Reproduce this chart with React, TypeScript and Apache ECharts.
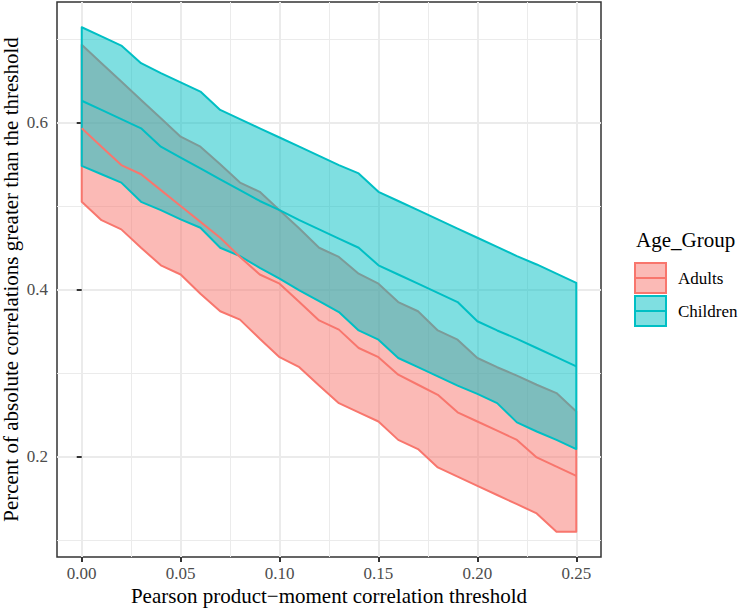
import React, { useEffect, useRef } from "react";
import * as echarts from "echarts";

// ---- data ----
const thresholds = [
  0, 0.01, 0.02, 0.03, 0.04, 0.05, 0.06, 0.07, 0.08, 0.09, 0.1, 0.11, 0.12,
  0.13, 0.14, 0.15, 0.16, 0.17, 0.18, 0.19, 0.2, 0.21, 0.22, 0.23, 0.24, 0.25,
];
const adultsUpper = [
  0.693, 0.671, 0.649, 0.627, 0.605, 0.583, 0.571, 0.55, 0.528, 0.517, 0.495,
  0.473, 0.45, 0.439, 0.419, 0.407, 0.385, 0.374, 0.351, 0.34, 0.318, 0.307,
  0.297, 0.286, 0.276, 0.254,
];
const adultsMean = [
  0.593, 0.571, 0.549, 0.538, 0.519, 0.5, 0.481, 0.462, 0.439, 0.418, 0.407,
  0.385, 0.363, 0.352, 0.33, 0.319, 0.298, 0.286, 0.274, 0.253, 0.242, 0.231,
  0.22, 0.199, 0.188, 0.177,
];
const adultsLower = [
  0.505, 0.483, 0.472, 0.45, 0.429, 0.418, 0.395, 0.374, 0.364, 0.341, 0.319,
  0.307, 0.285, 0.264, 0.253, 0.242, 0.22, 0.209, 0.187, 0.176, 0.165, 0.154,
  0.143, 0.132, 0.11, 0.11,
];
const childrenUpper = [
  0.714, 0.703, 0.692, 0.671, 0.659, 0.648, 0.637, 0.615, 0.604, 0.593, 0.582,
  0.571, 0.56, 0.549, 0.539, 0.517, 0.506, 0.495, 0.484, 0.473, 0.462, 0.451,
  0.44, 0.43, 0.419, 0.408,
];
const childrenMean = [
  0.626, 0.615, 0.604, 0.593, 0.571, 0.558, 0.545, 0.532, 0.519, 0.506, 0.495,
  0.483, 0.472, 0.461, 0.45, 0.429, 0.418, 0.407, 0.396, 0.385, 0.362, 0.351,
  0.341, 0.33, 0.319, 0.308,
];
const childrenLower = [
  0.548, 0.538, 0.528, 0.505, 0.495, 0.484, 0.474, 0.45, 0.44, 0.426, 0.413,
  0.399, 0.386, 0.373, 0.351, 0.34, 0.318, 0.307, 0.296, 0.285, 0.275, 0.264,
  0.241, 0.23, 0.22, 0.209,
];
const xMajorTicks = [0, 0.05, 0.1, 0.15, 0.2, 0.25];
const xMinorTicks = [0.025, 0.075, 0.125, 0.175, 0.225];
const yMajorTicks = [0.2, 0.4, 0.6];
const yMinorTicks = [0.1, 0.3, 0.5, 0.7];
const groupNames = ["Adults", "Children"];
const legendTitle = "Age_Group";
const xTitle = "Pearson product\u2212moment correlation threshold";
const yTitle = "Percent of absolute correlations greater than the threshold";

// ---- styling ----
const FONT = "Liberation Serif";
const ADULT = "#F8766D";
const CHILD = "#00BFC4";
const ADULT_FILL = "rgba(248,118,109,0.5)";
const CHILD_FILL = "rgba(0,191,196,0.5)";
const GRID_COLOR = "#EBEBEB";

function expand(vals: number[]) {
  const lo = Math.min(...vals);
  const hi = Math.max(...vals);
  const pad = (hi - lo) * 0.05;
  return [lo - pad, hi + pad];
}

function ribbon(name: string, lower: number[], upper: number[], stroke: string, fill: string) {
  return {
    type: "custom",
    name,
    xAxisIndex: 0,
    yAxisIndex: 0,
    silent: true,
    data: thresholds.map((x, i) => [x, lower[i], upper[i]]),
    encode: { x: 0, y: [1, 2] },
    renderItem: (params: any, api: any) => {
      if (params.dataIndex !== 0) return null;
      const top = thresholds.map((x, i) => api.coord([x, upper[i]]));
      const bottom = thresholds.map((x, i) => api.coord([x, lower[i]])).reverse();
      return {
        type: "polygon",
        shape: { points: top.concat(bottom) },
        style: { fill, stroke, lineWidth: 2, lineJoin: "round" },
      };
    },
  };
}

function meanLine(name: string, vals: number[], color: string) {
  return {
    type: "line",
    name,
    xAxisIndex: 0,
    yAxisIndex: 0,
    silent: true,
    showSymbol: false,
    data: thresholds.map((x, i) => [x, vals[i]]),
    lineStyle: { color, width: 2 },
    itemStyle: { color },
  };
}

export default function App() {
  const ref = useRef<HTMLDivElement>(null);
  useEffect(() => {
    if (!ref.current) return;
    const chart = echarts.init(ref.current, undefined, { renderer: "svg" });
    const [xMin, xMax] = expand(thresholds);
    const [yMin, yMax] = expand([
      ...adultsLower, ...adultsUpper, ...childrenLower, ...childrenUpper,
    ]);
    const tickLabel = { color: "#4D4D4D", fontSize: 17, fontFamily: FONT };
    const titleStyle = { color: "#000", fontSize: 21, fontFamily: FONT };
    const legendKey = (y: number, stroke: string, fill: string) => [
      { type: "rect", shape: { x: 635, y, width: 31, height: 30 }, style: { fill, stroke, lineWidth: 2 } },
      { type: "line", shape: { x1: 635, y1: y + 15, x2: 666, y2: y + 15 }, style: { stroke, lineWidth: 2 } },
    ];
    const legendText = (text: string, x: number, y: number, size: number) => ({
      type: "text",
      x,
      y,
      style: {
        text,
        fill: "#000",
        fontSize: size,
        fontFamily: FONT,
        textVerticalAlign: "middle",
        verticalAlign: "middle",
      },
    });
    chart.setOption({
      animation: false,
      backgroundColor: "#fff",
      grid: {
        left: 57, top: 2, width: 544, height: 555,
        show: true, borderColor: "#333", borderWidth: 1.5, backgroundColor: "transparent",
        containLabel: false, outerBoundsMode: "none",
      },
      xAxis: [
        {
          type: "value", min: xMin, max: xMax, position: "bottom",
          axisLine: { show: false },
          axisTick: { show: true, customValues: xMajorTicks, length: 5, lineStyle: { color: "#333", width: 2 } },
          axisLabel: { ...tickLabel, customValues: xMajorTicks, margin: 8, formatter: (v: number) => v.toFixed(2), showMinLabel: true, showMaxLabel: true },
          splitLine: { show: true, lineStyle: { color: GRID_COLOR, width: 2 } },
          name: xTitle, nameLocation: "middle", nameGap: 28, nameMoveOverlap: false, nameTextStyle: titleStyle,
        },
        {
          type: "value", min: xMin, max: xMax, position: "bottom",
          axisLine: { show: false },
          axisTick: { show: false, customValues: xMinorTicks },
          axisLabel: { show: false, customValues: xMinorTicks },
          splitLine: { show: true, lineStyle: { color: GRID_COLOR, width: 1 } },
        },
      ],
      yAxis: [
        {
          type: "value", min: yMin, max: yMax, position: "left",
          axisLine: { show: false },
          axisTick: { show: true, customValues: yMajorTicks, length: 5, lineStyle: { color: "#333", width: 2 } },
          axisLabel: { ...tickLabel, customValues: yMajorTicks, margin: 9, formatter: (v: number) => v.toFixed(1), showMinLabel: true, showMaxLabel: true },
          splitLine: { show: true, lineStyle: { color: GRID_COLOR, width: 2 } },
          name: yTitle, nameLocation: "middle", nameGap: 36, nameMoveOverlap: false, nameTextStyle: titleStyle,
        },
        {
          type: "value", min: yMin, max: yMax, position: "left",
          axisLine: { show: false },
          axisTick: { show: false, customValues: yMinorTicks },
          axisLabel: { show: false, customValues: yMinorTicks },
          splitLine: { show: true, lineStyle: { color: GRID_COLOR, width: 1 } },
        },
      ],
      series: [
        ribbon(groupNames[0], adultsLower, adultsUpper, ADULT, ADULT_FILL),
        ribbon(groupNames[1], childrenLower, childrenUpper, CHILD, CHILD_FILL),
        meanLine(groupNames[0] + " mean", adultsMean, ADULT),
        meanLine(groupNames[1] + " mean", childrenMean, CHILD),
      ],
      graphic: [
        legendText(legendTitle, 636, 240, 21),
        ...legendKey(263, ADULT, ADULT_FILL),
        ...legendKey(296, CHILD, CHILD_FILL),
        legendText(groupNames[0], 678, 278, 17),
        legendText(groupNames[1], 678, 311, 17),
      ],
    });
    return () => chart.dispose();
  }, []);
  return (
    <div
      ref={ref}
      style={{ position: "absolute", left: 0, top: 0, width: 740, height: 608 }}
    />
  );
}
